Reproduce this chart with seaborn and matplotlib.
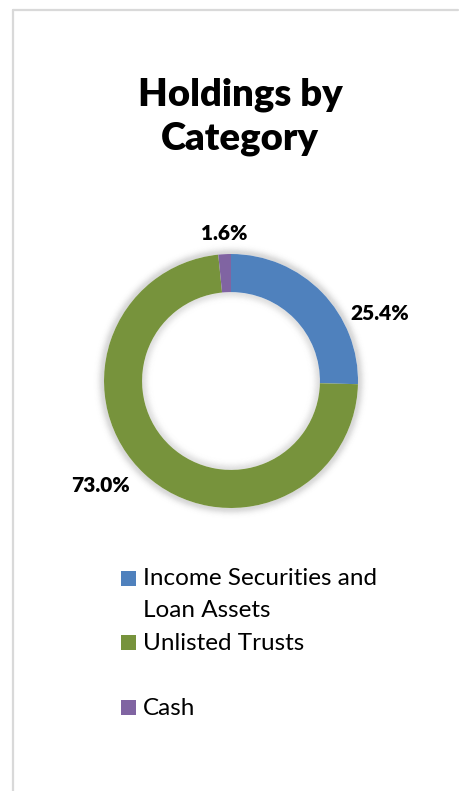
import numpy as np
import matplotlib
matplotlib.use("Agg")
import matplotlib.pyplot as plt
import seaborn as sns
from matplotlib.patches import Wedge, Rectangle
from matplotlib.lines import Line2D

# ---- data ----
categories = ["Income Securities and\nLoan Assets", "Unlisted Trusts", "Cash"]
values = [25.4, 73.0, 1.6]
value_labels = ["25.4%", "73.0%", "1.6%"]
colors = ["#4F81BD", "#77933C", "#8064A2"]
title_lines = ["Holdings by", "Category"]

# ---- style ----
sns.set_theme(style="white")
plt.rcParams['font.family'] = ['Lato', 'DejaVu Sans']

W, H = 459, 791
fig = plt.figure(figsize=(W / 100, H / 100), dpi=100)
fig.patch.set_facecolor("white")


def fx(px):
    return px / W


def fy(py):
    return 1 - py / H


# chart frame (only left/top visible in the crop)
fig.add_artist(Line2D([fx(13), fx(13)], [fy(10), 0], color="#D9D9D9", lw=1.6, transform=fig.transFigure))
fig.add_artist(Line2D([fx(13), fx(458)], [fy(10), fy(10)], color="#D9D9D9", lw=1.6, transform=fig.transFigure))

# donut
cx, cy, R = 231, 381, 127
ax = fig.add_axes([fx(cx - R), fy(cy + R), 2 * R / W, 2 * R / H])
ring_w = 0.30

# soft shadow (outer glow + inner)
n = 18
ow = 0.09
for k in range(n):
    r = 1.0 + ow * k / n
    a = 0.16 * np.exp(-(k / (n * 0.45)) ** 2)
    ax.add_patch(Wedge((0, 0), r + ow / n, 0, 360, width=ow / n, facecolor="black",
                       alpha=a, lw=0, zorder=0, clip_on=False))
iw = 0.09
for k in range(n):
    r = (1 - ring_w) - iw * k / n
    a = 0.12 * np.exp(-(k / (n * 0.45)) ** 2)
    ax.add_patch(Wedge((0, 0), r, 0, 360, width=iw / n, facecolor="black",
                       alpha=a, lw=0, zorder=0, clip_on=False))

wedges, _ = ax.pie(values, colors=colors, startangle=90, counterclock=False, radius=1,
                   wedgeprops=dict(width=ring_w, linewidth=0))
for w in wedges:
    w.set_zorder(2)
ax.set_xlim(-1, 1)
ax.set_ylim(-1, 1)
ax.axis("off")

# data labels
label_pos = [(379.5, 320), (100.5, 492), (224.5, 240)]
for txt, (px, py) in zip(value_labels, label_pos):
    fig.text(fx(px), fy(py), txt, ha="center", va="baseline", fontsize=15,
             fontweight="heavy", color="black")

# title
fig.text(fx(240), fy(106), title_lines[0], ha="center", va="baseline", fontsize=27.5,
         fontweight="heavy", color="black")
fig.text(fx(240), fy(149), title_lines[1], ha="center", va="baseline", fontsize=27.5,
         fontweight="heavy", color="black")

# legend
sq_top = [571, 635, 700]
base = [585, 650, 715]
for lab, col, t, b in zip(categories, colors, sq_top, base):
    fig.add_artist(Rectangle((fx(121), fy(t + 15)), 15 / W, 15 / H, facecolor=col,
                             edgecolor="none", transform=fig.transFigure))
    for i, line in enumerate(lab.split("\n")):
        fig.text(fx(143), fy(b + 32 * i), line, ha="left", va="baseline", fontsize=17.5,
                 color="black")

fig.savefig("out.png", dpi=100)
